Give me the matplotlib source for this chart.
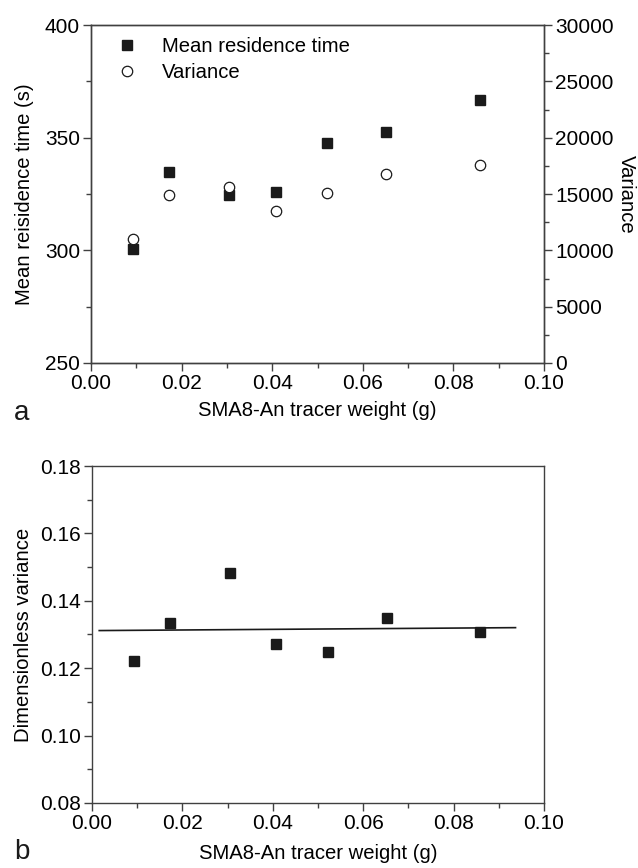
import numpy as np
import matplotlib
matplotlib.use("Agg")
import matplotlib.pyplot as plt
from matplotlib.ticker import MultipleLocator

plt.rcParams['font.family'] = ['Liberation Sans', 'DejaVu Sans']
plt.rcParams['font.size'] = 14.6

# Data
tracer_weight = [0.0092, 0.0173, 0.0305, 0.0408, 0.0522, 0.0652, 0.0859]
mean_time = [300.5, 334.6, 324.7, 325.7, 347.8, 352.6, 366.7]
variance = [11000, 14900, 15600, 13450, 15050, 16750, 17550]
dimless_var = [0.1222, 0.1333, 0.1482, 0.1271, 0.1247, 0.1348, 0.1306]
fit_range = [0.0016, 0.0937]

ink = '#1a1a1a'
spine = '#404040'

fig = plt.figure(figsize=(6.38, 8.68), dpi=100)
W, H = 638, 868

def box(l, t, r, b):
    return [l / W, 1 - b / H, (r - l) / W, (b - t) / H]

def style(ax, right=False):
    for s in ax.spines.values():
        s.set_color(spine)
        s.set_linewidth(1.0)
    ax.tick_params(which='both', direction='out', color=spine, width=1.0,
                   top=False, right=right, labeltop=False, labelsize=15, pad=2)
    ax.tick_params(which='major', length=6)
    ax.tick_params(which='minor', length=3.5)

# ---- panel a ----
ax1 = fig.add_axes(box(91, 25, 544, 363))
ax1.plot(tracer_weight, mean_time, 's', color=ink, ms=6.5,
         label='Mean residence time')
ax1.set_xlim(0, 0.10)
ax1.set_ylim(250, 400)
ax1.xaxis.set_major_locator(MultipleLocator(0.02))
ax1.xaxis.set_minor_locator(MultipleLocator(0.01))
ax1.yaxis.set_major_locator(MultipleLocator(50))
ax1.yaxis.set_minor_locator(MultipleLocator(25))
ax1.xaxis.set_major_formatter(plt.FormatStrFormatter('%.2f'))
style(ax1)
ax1.set_ylabel('Mean reisidence time (s)', labelpad=8)
ax1.set_xlabel('SMA8-An tracer weight (g)', labelpad=5.5)

ax2 = ax1.twinx()
ax2.plot(tracer_weight, variance, 'o', mfc='white', mec=ink, mew=0.9, ms=7.5,
         label='Variance')
ax2.set_ylim(0, 30000)
ax2.yaxis.set_major_locator(MultipleLocator(5000))
ax2.yaxis.set_minor_locator(MultipleLocator(2500))
style(ax2, right=True)
ax2.tick_params(which='both', left=False, bottom=False, labelbottom=False)
ax2.set_ylabel('Variance', rotation=-90, labelpad=16)

h1, l1 = ax1.get_legend_handles_labels()
h2, l2 = ax2.get_legend_handles_labels()
ax1.legend(h1 + h2, l1 + l2, loc='upper left', bbox_to_anchor=(0.035, 0.994),
           frameon=False, handlelength=1.0, handletextpad=1.2,
           labelspacing=0.35, fontsize=14.6, borderaxespad=0.1)
fig.text(14 / W, 1 - 420 / H, 'a', fontsize=20, color=ink)

# ---- panel b ----
ax3 = fig.add_axes(box(92, 466, 544, 803))
ax3.plot(tracer_weight, dimless_var, 's', color=ink, ms=6.5)
coef = np.polyfit(tracer_weight, dimless_var, 1)
xf = np.array(fit_range)
ax3.plot(xf, np.polyval(coef, xf), '-', color=ink, lw=1.2)
ax3.set_xlim(0, 0.10)
ax3.set_ylim(0.08, 0.18)
ax3.xaxis.set_major_locator(MultipleLocator(0.02))
ax3.xaxis.set_minor_locator(MultipleLocator(0.01))
ax3.yaxis.set_major_locator(MultipleLocator(0.02))
ax3.yaxis.set_minor_locator(MultipleLocator(0.01))
ax3.xaxis.set_major_formatter(plt.FormatStrFormatter('%.2f'))
ax3.yaxis.set_major_formatter(plt.FormatStrFormatter('%.2f'))
style(ax3)
ax3.set_ylabel('Dimensionless variance', labelpad=5)
ax3.set_xlabel('SMA8-An tracer weight (g)', labelpad=8)
fig.text(14 / W, 1 - 859 / H, 'b', fontsize=20, color=ink)

fig.savefig('out.png', dpi=100)
